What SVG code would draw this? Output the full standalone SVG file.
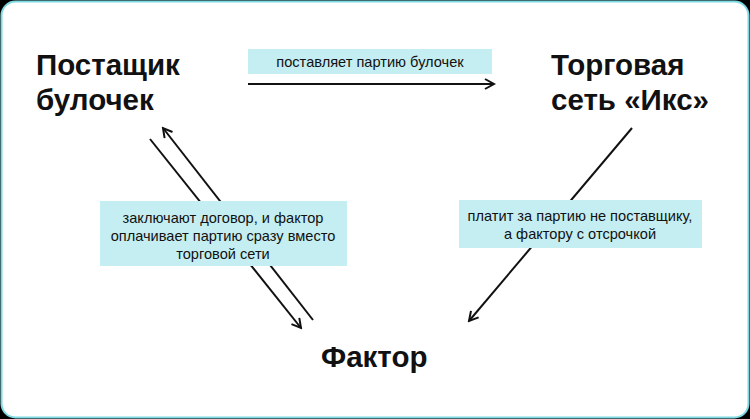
<svg xmlns="http://www.w3.org/2000/svg" width="750" height="419" viewBox="0 0 750 419">
<style>
text{font-family:"Liberation Sans",Arial,sans-serif;fill:#111}
.n{font-size:29.5px;font-weight:bold}
.l{font-size:14.6px;text-anchor:middle}
.b{fill:#c5eef2}
.c{stroke:#111;stroke-width:2;fill:none;marker-end:url(#a)}
</style>
<defs><marker id="a" viewBox="0 0 12 12" refX="10" refY="6" markerWidth="12" markerHeight="12" markerUnits="userSpaceOnUse" orient="auto"><path d="M1 1 L10 6 L1 11" fill="none" stroke="#111" stroke-width="2"/></marker></defs>
<rect width="750" height="419" fill="#000"/>
<rect x="1.5" y="1.5" width="747" height="416" rx="14" fill="#fff" stroke="#7fd8e0" stroke-width="2"/>
<g id="supplier"><text class="n" x="36" y="75">Постащик</text><text class="n" x="36" y="110">булочек</text></g>
<g id="retail"><text class="n" x="551" y="75">Торговая</text><text class="n" x="551" y="110">сеть «Икс»</text></g>
<g id="factor"><text class="n" x="321" y="367">Фактор</text></g>
<g id="connectors">
<line class="c" x1="248" y1="84" x2="494" y2="84"/>
<line class="c" x1="150" y1="139" x2="301" y2="328"/>
<line class="c" x1="313" y1="320" x2="163" y2="128"/>
<line class="c" x1="632" y1="128" x2="469" y2="321"/>
</g>
<g id="labels">
<rect class="b" x="248" y="49" width="244" height="25"/>
<text class="l" x="370" y="67">поставляет партию булочек</text>
<rect class="b" x="100" y="201" width="247" height="65"/>
<text class="l" x="223" y="223">заключают договор, и фактор</text>
<text class="l" x="223" y="241">оплачивает партию сразу вместо</text>
<text class="l" x="223" y="259">торговой сети</text>
<rect class="b" x="459" y="200" width="243" height="48"/>
<text class="l" x="580" y="221">платит за партию не поставщику,</text>
<text class="l" x="580" y="239">а фактору с отсрочкой</text>
</g>
</svg>
